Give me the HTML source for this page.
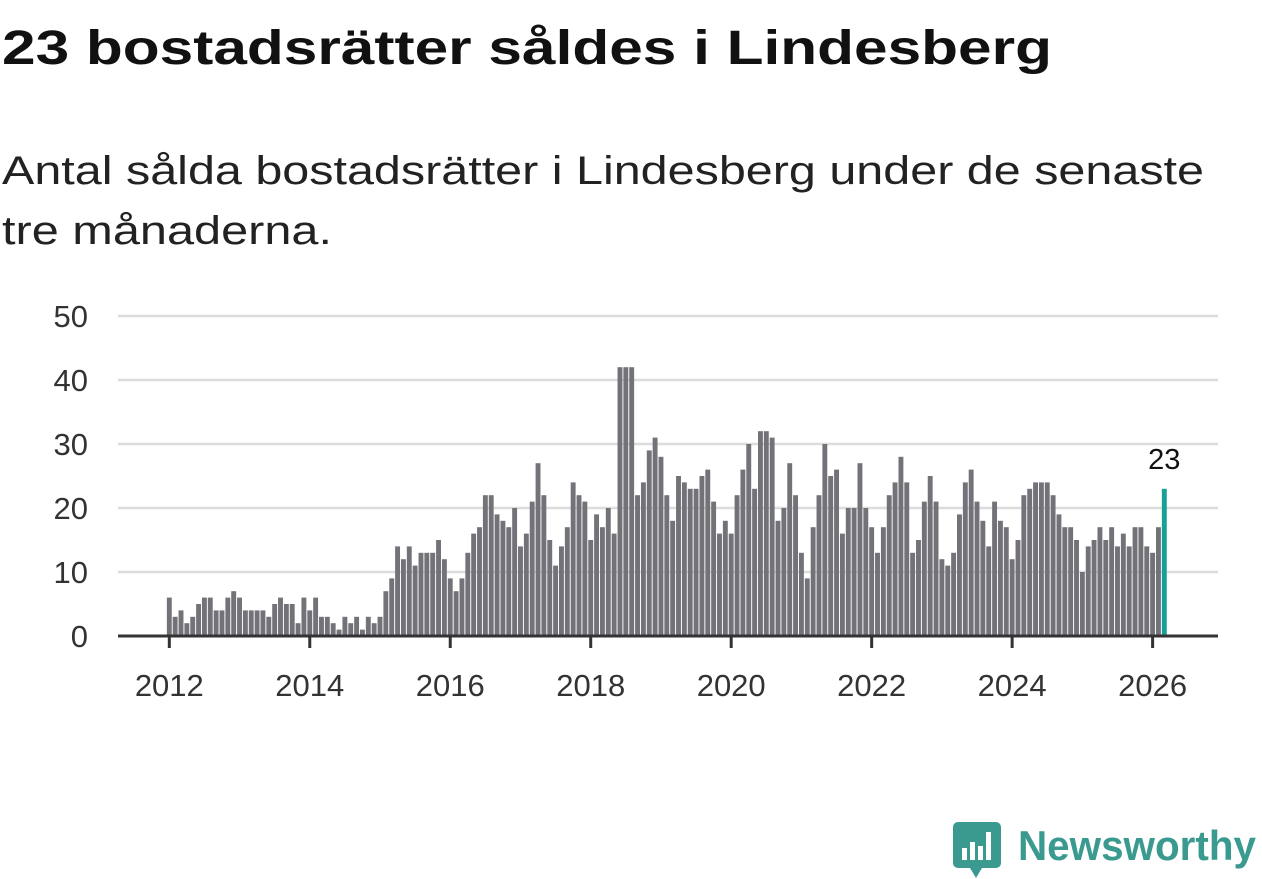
<!DOCTYPE html>
<html><head><meta charset="utf-8"><style>
html,body{margin:0;padding:0;background:#fff;}
svg{display:block;font-family:"Liberation Sans",sans-serif;}
</style></head><body>
<svg id="chart" width="1262" height="879" viewBox="0 0 1262 879" xmlns="http://www.w3.org/2000/svg">
<text x="2" y="64" font-size="48" font-weight="bold" fill="#111" textLength="1050" lengthAdjust="spacingAndGlyphs">23 bostadsrätter såldes i Lindesberg</text>
<text x="2" y="184" font-size="40" fill="#222" textLength="1202" lengthAdjust="spacingAndGlyphs">Antal sålda bostadsrätter i Lindesberg under de senaste</text>
<text x="2" y="244" font-size="40" fill="#222" textLength="330" lengthAdjust="spacingAndGlyphs">tre månaderna.</text>
<g id="grid"></g>
<g id="yaxis"></g>
<g id="bars"></g>
<g id="xaxis"></g>
<g>
<path d="M958 822 h38 a5 5 0 0 1 5 5 v36 a5 5 0 0 1 -5 5 h-14 l-6 10 l-6 -10 h-12 a5 5 0 0 1 -5 -5 v-36 a5 5 0 0 1 5 -5z" fill="#3a9a8f"/>
<rect x="962" y="848" width="5" height="12" fill="#fff"/>
<rect x="970" y="842" width="5" height="18" fill="#fff"/>
<rect x="978" y="846" width="5" height="14" fill="#fff"/>
<rect x="986" y="832" width="5" height="28" fill="#fff"/>
<text x="1018" y="860" font-size="42" font-weight="bold" fill="#3a9a8f" textLength="238" lengthAdjust="spacingAndGlyphs">Newsworthy</text>
</g>
</svg>
<script>
const values2012 = [6,3,4,2,3,5,6,6,4,4,6,7];
const values2013 = [6,4,4,4,4,3,5,6,5,5,2,6];
const values2014 = [4,6,3,3,2,1,3,2,3,1,3,2];
const values2015 = [3,7,9,14,12,14,11,13,13,13,15,12];
const values2016 = [9,7,9,13,16,17,22,22,19,18,17,20];
const values2017 = [14,16,21,27,22,15,11,14,17,24,22,21];
const values2018 = [15,19,17,20,16,42,42,42,22,24,29,31];
const values2019 = [28,22,18,25,24,23,23,25,26,21,16,18];
const values2020 = [16,22,26,30,23,32,32,31,18,20,27,22];
const values2021 = [13,9,17,22,30,25,26,16,20,20,27,20];
const values2022 = [17,13,17,22,24,28,24,13,15,21,25,21];
const values2023 = [12,11,13,19,24,26,21,18,14,21,18,17];
const values2024 = [12,15,22,23,24,24,24,22,19,17,17,15];
const values2025 = [10,14,15,17,15,17,14,16,14,17,17,14];
const values2026 = [13,17,23];
const startYear = 2012;
const yTicks = [0,10,20,30,40,50];
const xTickYears = [2012,2014,2016,2018,2020,2022,2024,2026];

const values = [].concat(values2012,values2013,values2014,values2015,values2016,values2017,values2018,values2019,values2020,values2021,values2022,values2023,values2024,values2025,values2026);
const NS='http://www.w3.org/2000/svg';
const plotL=118, plotR=1218, y0=636, yTop=316;
const x0=169.3, monthW=5.853, barW=4.9;
function xScale(i){return x0+i*monthW;}
function yScale(v){return y0-(v/50)*(y0-yTop);}
function mk(tag,attrs,parent){const e=document.createElementNS(NS,tag);for(const k in attrs)e.setAttribute(k,attrs[k]);parent.appendChild(e);return e;}
const grid=document.getElementById('grid'), ya=document.getElementById('yaxis'), bars=document.getElementById('bars'), xa=document.getElementById('xaxis');
yTicks.forEach(t=>{
  if(t>0){const l=mk('line',{x1:plotL,x2:plotR,y1:yScale(t),y2:yScale(t),stroke:'#dcdcdc','stroke-width':2.5},grid);
  
  }
  const tx=mk('text',{x:88,y:yScale(t)+11,'text-anchor':'end','font-size':31,fill:'#333'},ya);
  
  
  tx.textContent=t;
});
values.forEach((v,i)=>{
  const last=i===values.length-1;
  const r=mk('rect',{x:xScale(i)-barW/2,y:yScale(v),width:barW,height:y0-yScale(v),fill:last?'#17a096':'#737278'},bars);
  
  
});
const li=values.length-1;
const lab=mk('text',{x:xScale(li),y:yScale(values[li])-20,'text-anchor':'middle','font-size':29,fill:'#111'},bars);


lab.textContent=values[li];
const ax=mk('line',{x1:plotL,x2:plotR,y1:y0,y2:y0,stroke:'#333','stroke-width':3},xa);


xTickYears.forEach(yr=>{
  const xi=xScale((yr-startYear)*12);
  const tk=mk('line',{x1:xi,x2:xi,y1:y0,y2:y0+12,stroke:'#333','stroke-width':3},xa);
  
  
  const tx=mk('text',{x:xi,y:696,'text-anchor':'middle','font-size':31,fill:'#333'},xa);
  
  
  tx.textContent=yr;
});
</script>
</body></html>
